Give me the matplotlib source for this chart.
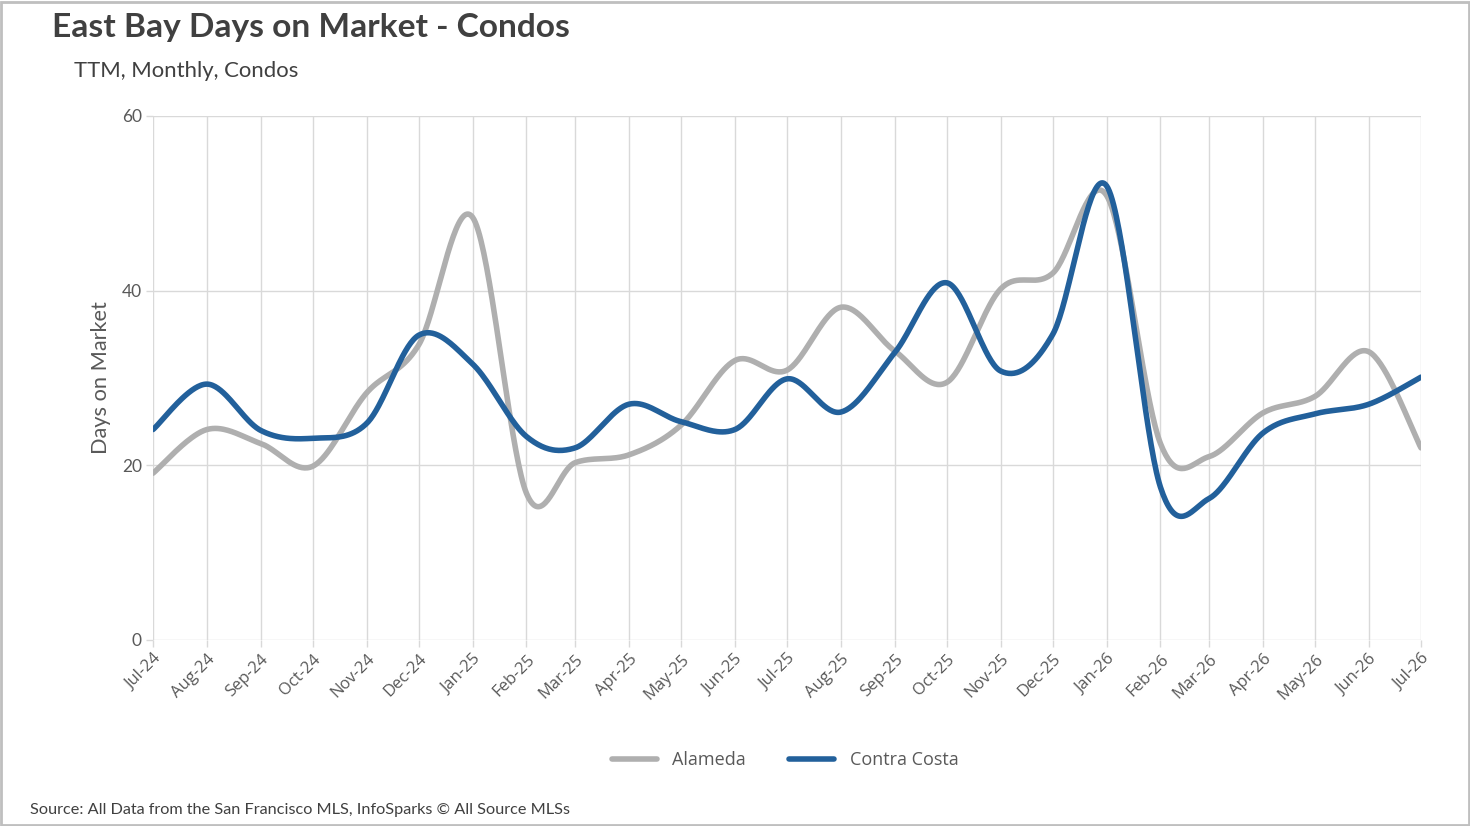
import numpy as np
import pandas as pd
import matplotlib
matplotlib.use('Agg')
import matplotlib.pyplot as plt
import matplotlib.dates as mdates
from matplotlib.patches import Rectangle

months = ['Jul-24', 'Aug-24', 'Sep-24', 'Oct-24', 'Nov-24', 'Dec-24', 'Jan-25',
          'Feb-25', 'Mar-25', 'Apr-25', 'May-25', 'Jun-25', 'Jul-25', 'Aug-25',
          'Sep-25', 'Oct-25', 'Nov-25', 'Dec-25', 'Jan-26', 'Feb-26', 'Mar-26',
          'Apr-26', 'May-26', 'Jun-26', 'Jul-26']
alameda = [19.1, 24.1, 22.5, 19.9, 28.3, 33.8, 48.4, 16.8, 20.3, 21.2, 24.6, 32.0,
           30.9, 38.1, 33.1, 29.5, 40.2, 42.0, 50.9, 22.5, 21.0, 26.0, 27.9, 33.0,
           22.0]
contra_costa = [24.1, 29.3, 24.0, 23.1, 24.8, 34.9, 31.6, 23.3, 22.0, 27.0, 25.0,
                24.1, 29.9, 26.1, 32.9, 40.9, 30.8, 35.0, 52.0, 17.5, 16.2, 23.7,
                25.9, 27.0, 30.1]

GRAY = '#afafaf'
BLUE = '#22609b'
TXT = '#595959'

plt.rcParams['font.family'] = ['Lato', 'DejaVu Sans']

# date axis: months have their real lengths, like the source chart
dates = pd.to_datetime(months, format='%b-%y')
xnum = mdates.date2num(dates)


def smooth(xs, ys, k=1 / 6, n=40):
    """Smoothed line through the points (cardinal Bezier, like a spreadsheet)."""
    xs = np.asarray(xs, dtype=float)
    ys = np.asarray(ys, dtype=float)
    px = np.concatenate([[xs[0]], xs, [xs[-1]]])
    py = np.concatenate([[ys[0]], ys, [ys[-1]]])
    t = np.linspace(0, 1, n)
    c = [(1 - t) ** 3, 3 * (1 - t) ** 2 * t, 3 * (1 - t) * t ** 2, t ** 3]
    out_x, out_y = [], []
    for i in range(1, len(px) - 2):
        b0x, b0y = px[i], py[i]
        b3x, b3y = px[i + 1], py[i + 1]
        b1x = b0x + (px[i + 1] - px[i - 1]) * k
        b1y = b0y + (py[i + 1] - py[i - 1]) * k
        b2x = b3x - (px[i + 2] - px[i]) * k
        b2y = b3y - (py[i + 2] - py[i]) * k
        out_x.append(c[0] * b0x + c[1] * b1x + c[2] * b2x + c[3] * b3x)
        out_y.append(c[0] * b0y + c[1] * b1y + c[2] * b2y + c[3] * b3y)
    return np.concatenate(out_x), np.concatenate(out_y)


fig = plt.figure(figsize=(14.7, 8.26), dpi=100)
ax = fig.add_axes([153 / 1470, 1 - 640 / 826, (1421 - 153) / 1470, (640 - 116) / 826])

for vals, col, name in [(alameda, GRAY, 'Alameda'), (contra_costa, BLUE, 'Contra Costa')]:
    sx, sy = smooth(xnum, vals)
    ax.plot(sx, sy, color=col, lw=4, solid_capstyle='round', label=name, zorder=3)

ax.set_xlim(xnum[0], xnum[-1])
ax.set_ylim(0, 60)
ax.set_yticks([0, 20, 40, 60])
ax.set_xticks(xnum)
ax.set_xticklabels(months, rotation=45, ha='right', rotation_mode='anchor',
                   family=['Open Sans', 'DejaVu Sans'])
ax.grid(True, color='#d9d9d9', lw=1)
ax.set_axisbelow(True)
for s in ax.spines.values():
    s.set_visible(False)
ax.tick_params(axis='both', colors='#d9d9d9', labelcolor=TXT, length=5, width=1)
ax.tick_params(axis='x', labelsize=12, pad=3)
ax.tick_params(axis='y', labelsize=12.5, pad=3)
ax.set_ylabel('Days on Market', fontsize=15.7, color=TXT, labelpad=8)

fig.text(52 / 1470, 1 - 28 / 826, 'East Bay Days on Market - Condos', fontsize=24.1,
         fontweight='bold', color='#404040', va='center', ha='left')
fig.text(74 / 1470, 1 - 71 / 826, 'TTM, Monthly, Condos', fontsize=15.9,
         color='#404040', va='center', ha='left')
fig.text(30 / 1470, 1 - 810 / 826,
         'Source: All Data from the San Francisco MLS, InfoSparks \u00a9 All Source MLSs',
         fontsize=11.72, color='#404040', va='center', ha='left')

fig.legend(loc='center', bbox_to_anchor=(785 / 1470, 1 - 760 / 826), ncol=2,
           frameon=False, prop={'family': ['Open Sans', 'DejaVu Sans'], 'size': 13},
           labelcolor=TXT, handlelength=2.5, columnspacing=2.4, handletextpad=0.85)

fig.patches.append(Rectangle((0.001, 0.001), 0.998, 0.997, transform=fig.transFigure,
                             fill=False, edgecolor='#bfbfbf', lw=2))

fig.savefig('out.png', dpi=100)
